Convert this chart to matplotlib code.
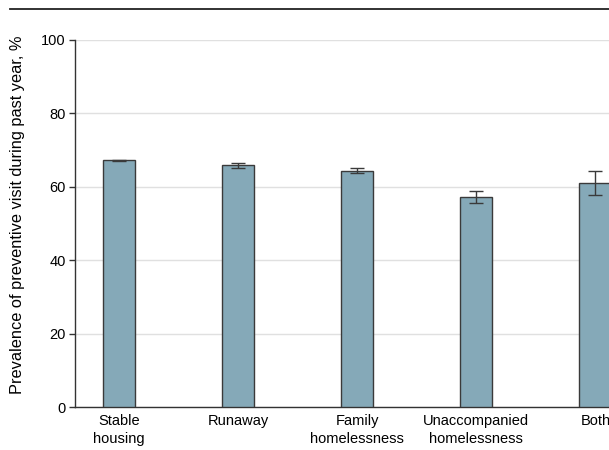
import matplotlib
matplotlib.use('Agg')
import matplotlib.pyplot as plt
from matplotlib.lines import Line2D

# 各住房状况组别及预防性就诊率（%）与95%置信区间
groups = ['Stable\nhousing', 'Runaway', 'Family\nhomelessness', 'Unaccompanied\nhomelessness', 'Both']
prevalence = [67.2, 65.9, 64.4, 57.3, 61.0]
ci_low = [67.0, 65.2, 63.7, 55.7, 57.7]
ci_high = [67.4, 66.6, 65.1, 59.0, 64.3]

plt.rcParams['font.family'] = ['Liberation Sans', 'DejaVu Sans']

fig = plt.figure(figsize=(6.09, 4.5), dpi=100)
ax = fig.add_axes([75/609, 1-407.3/450, 1-75/609, (407.3-40)/450])

x = list(range(len(groups)))
err = [[p-l for p, l in zip(prevalence, ci_low)], [h-p for p, h in zip(prevalence, ci_high)]]
ax.bar(x, prevalence, width=0.27, color='#85a9b8', edgecolor='#3a3a3a', linewidth=1.0, zorder=3)
ax.errorbar(x, prevalence, yerr=err, fmt='none', ecolor='#3a3a3a', elinewidth=1.0,
            capsize=5, capthick=1.0, zorder=4)

ax.set_xlim(-0.372, 4.115)
ax.set_ylim(0, 100)
ax.set_yticks([0, 20, 40, 60, 80, 100])
ax.set_xticks(x)
ax.set_xticklabels(groups, fontsize=10.5, linespacing=1.35)
ax.tick_params(axis='x', length=0, pad=5)
ax.tick_params(axis='y', length=4, width=1, color='#333333', pad=2.5, labelsize=10.5)
ax.yaxis.grid(True, color='#e0e0e0', linewidth=1.0, zorder=0)
ax.set_axisbelow(True)
for s in ['top', 'right']:
    ax.spines[s].set_visible(False)
for s in ['left', 'bottom']:
    ax.spines[s].set_color('#333333')
    ax.spines[s].set_linewidth(1.0)
ax.set_ylabel('Prevalence of preventive visit during past year, %', fontsize=11.8, labelpad=12, y=0.525)

# 顶部横线
fig.add_artist(Line2D([10/609, 1], [1-8.5/450, 1-8.5/450], color='#222222', linewidth=1.3))

plt.savefig('out.png', dpi=100)
